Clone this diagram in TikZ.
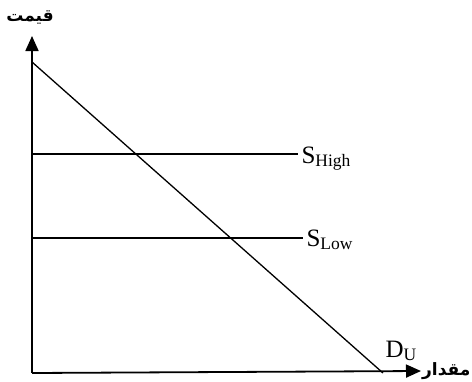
\documentclass[tikz,border=0pt]{standalone}
\usepackage{fontspec}
\setmainfont{Liberation Serif}
\newfontfamily\farsifont[Script=Arabic]{DejaVu Sans}
\TeXXeTstate=1
\usepackage{tikz}
\usetikzlibrary{arrows.meta}

\begin{document}
\begin{tikzpicture}[x=1pt, y=-1pt, font=\fontsize{25}{29}\selectfont]
    \useasboundingbox (0,0) rectangle (472,381);

    % Axes
    \coordinate (orig) at (32,373);
    \node[font=\farsifont\bfseries\fontsize{17}{19}\selectfont] (price) at (30,18) {\beginR قیمت\endR};
    \node[font=\farsifont\bfseries\fontsize{17}{19}\selectfont, anchor=west, inner sep=1pt] (qty) at (421,371) {\beginR مقدار\endR};
    \draw[line width=1.8pt, -{Triangle[length=15pt, width=13pt]}]
      (orig) -- (32,36);
    \draw[line width=1.8pt, -{Triangle[length=15pt, width=13pt]}]
      (orig) -- (qty.west);

    % Demand
    \coordinate (dTop) at (32,62);
    \coordinate (dEnd) at (383,373);
    \draw[line width=1.3pt] (dTop) -- (dEnd);
    \node[anchor=base west] (demand) at (382,357) {D\textsubscript{U}};

    % Supply lines
    \coordinate (hi) at (32,154);
    \coordinate (lo) at (32,238);
    \node[anchor=base west] (sHigh) at (298,163) {S\textsubscript{High}};
    \node[anchor=base west] (sLow) at (303,246) {S\textsubscript{Low}};
    \draw[line width=1.3pt] (hi) -- (hi -| sHigh.west);
    \draw[line width=1.3pt] (lo) -- (lo -| sLow.west);
  \end{tikzpicture}
\end{document}
